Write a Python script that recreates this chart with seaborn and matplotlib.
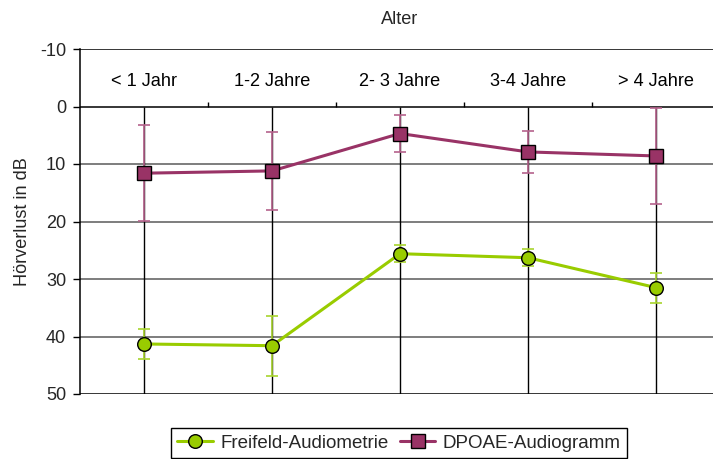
import matplotlib
matplotlib.use("Agg")
import matplotlib.pyplot as plt
from matplotlib.lines import Line2D
import numpy as np
import pandas as pd
import seaborn as sns

# Age groups and hearing-loss means (dB) with their error margins
age_groups = ["< 1 Jahr", "1-2 Jahre", "2- 3 Jahre", "3-4 Jahre", "> 4 Jahre"]
freifeld_mean = [41.3, 41.6, 25.6, 26.3, 31.5]
freifeld_err = [2.6, 5.2, 1.5, 1.5, 2.6]
dpoae_mean = [11.6, 11.2, 4.7, 7.9, 8.6]
dpoae_err = [8.3, 6.8, 3.2, 3.7, 8.3]
y_ticks = [-10, 0, 10, 20, 30, 40, 50]

series_names = ["Freifeld-Audiometrie", "DPOAE-Audiogramm"]
title_text = "Alter"
ylabel_text = "Hörverlust in dB"

GREEN = "#99CC00"
GREEN_ERR = "#A8D42E"
PURPLE = "#993366"
PURPLE_ERR = "#B5628C"

sns.set_style("white")
plt.rcParams["font.family"] = ["Liberation Sans", "DejaVu Sans"]
FS = 13.1
LEG_FS = 13.5

pos = np.arange(len(age_groups))
df = pd.DataFrame({
    "pos": np.concatenate([pos, pos]),
    "value": freifeld_mean + dpoae_mean,
    "series": [series_names[0]] * len(pos) + [series_names[1]] * len(pos),
})

fig = plt.figure(figsize=(7.13, 4.59), dpi=100)
ax = fig.add_axes([80 / 713, 65 / 459, 640 / 713, 345 / 459])

# grid: horizontal lines and category verticals
for yv in [10, 20, 30, 40]:
    ax.axhline(yv, color="#5a5a5a", lw=1.1, zorder=1)
for yv in [-10, 0, 50]:
    ax.axhline(yv, color="black", lw=1.1, zorder=1)
ax.vlines(pos, 0, 50, color="black", lw=1.0, zorder=1)
# category separator ticks on the zero line
ax.vlines(pos[:-1] + 0.5, -0.85, 0, color="black", lw=1.0, zorder=1)

# error bars
ax.errorbar(pos, freifeld_mean, yerr=freifeld_err, fmt="none", ecolor=GREEN_ERR,
            elinewidth=1.2, capsize=4.3, capthick=1.2, zorder=2)
ax.errorbar(pos, dpoae_mean, yerr=dpoae_err, fmt="none", ecolor=PURPLE_ERR,
            elinewidth=1.2, capsize=4.3, capthick=1.2, zorder=2)

# series lines with markers
sns.lineplot(data=df[df.series == series_names[0]], x="pos", y="value", ax=ax,
             color=GREEN, lw=2.2, marker="o", markersize=9.8,
             markerfacecolor=GREEN, markeredgecolor="black", markeredgewidth=1.0,
             zorder=3, legend=False)
sns.lineplot(data=df[df.series == series_names[1]], x="pos", y="value", ax=ax,
             color=PURPLE, lw=2.2, marker="s", markersize=9.4,
             markerfacecolor=PURPLE, markeredgecolor="black", markeredgewidth=1.0,
             zorder=3, legend=False)

ax.set_xlim(-0.5, len(age_groups) - 0.5)
ax.set_ylim(50, -10)
ax.set_xticks([])
ax.set_yticks(y_ticks)
ax.set_yticklabels([str(t) for t in y_ticks], fontsize=FS)
ax.tick_params(axis="y", length=5, width=1, color="black", direction="out", pad=5, left=True)
ax.set_xlabel("")
ax.set_ylabel(ylabel_text, fontsize=FS)
ax.yaxis.set_label_coords(-0.076, 0.5)

for sp in ["top", "right", "bottom"]:
    ax.spines[sp].set_visible(False)
ax.spines["left"].set_color("black")
ax.spines["left"].set_linewidth(1.1)
ax.spines["left"].set_zorder(4)

# category labels inside the band above zero
for p, lab in zip(pos, age_groups):
    ax.text(p, -4.3, lab, ha="center", va="center", fontsize=FS, color="black")

fig.text(400 / 713, 1 - 19 / 459, title_text, ha="center", va="center", fontsize=FS)

handles = [
    Line2D([], [], color=GREEN, lw=2.2, marker="o", markersize=9.8,
           markerfacecolor=GREEN, markeredgecolor="black", markeredgewidth=1.0),
    Line2D([], [], color=PURPLE, lw=2.2, marker="s", markersize=9.4,
           markerfacecolor=PURPLE, markeredgecolor="black", markeredgewidth=1.0),
]
leg = fig.legend(handles, series_names, loc="upper center",
                 bbox_to_anchor=(399 / 713, 1 - 428 / 459), ncol=2, fontsize=LEG_FS,
                 frameon=True, fancybox=False, edgecolor="black", framealpha=1,
                 handlelength=1.9, handletextpad=0.4, columnspacing=0.6,
                 borderpad=0.35, borderaxespad=0)
leg.get_frame().set_linewidth(1.0)

fig.savefig("out.png", dpi=100)
